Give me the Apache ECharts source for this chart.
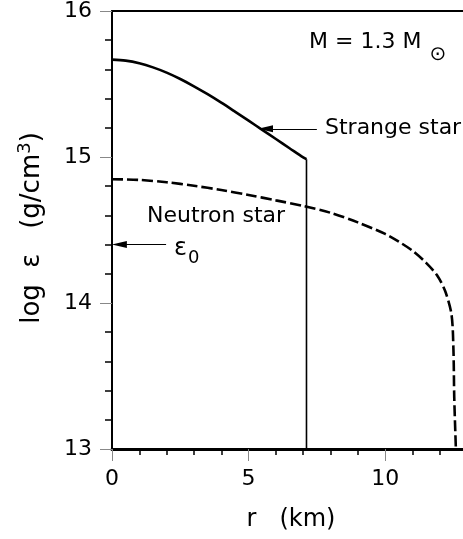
<!DOCTYPE html>
<html>
<head>
<meta charset="utf-8">
<script src="https://cdn.jsdelivr.net/npm/echarts@6/dist/echarts.min.js"></script>
<style>
html,body{margin:0;padding:0;background:#fff;}
#c{width:463px;height:539px;}
</style>
</head>
<body>
<div id="c"></div>
<script>
// ---- data ----
const strangeR    = [0, 0.5, 1, 1.5, 2, 2.5, 3, 3.5, 4, 4.5, 5, 5.5, 6, 6.5, 7, 7.12];
const strangeLogE = [15.667, 15.66, 15.642, 15.614, 15.578, 15.534, 15.484, 15.43, 15.372, 15.311, 15.249, 15.186, 15.123, 15.06, 14.997, 14.985];
const strangeEdgeR = [7.12, 7.12];
const strangeEdgeLogE = [14.985, 13];
const neutronR    = [0, 1, 2, 3, 4, 5, 6, 7, 8, 9, 10, 10.5, 11, 11.5, 11.9, 12.2, 12.43, 12.5, 12.53, 12.59];
const neutronLogE = [14.848, 14.843, 14.827, 14.803, 14.774, 14.74, 14.703, 14.665, 14.618, 14.552, 14.473, 14.42, 14.358, 14.275, 14.19, 14.08, 13.92, 13.68, 13.35, 13.0];
const xMajorTicks = [0, 5, 10];
const xMinorTicks = [1, 2, 3, 4, 6, 7, 8, 9, 11, 12];
const yTicks = [13, 14, 15, 16];

const FONT = 'DejaVu Sans';
const pair = (xs, ys) => xs.map((x, i) => [x, ys[i]]);

const chart = echarts.init(document.getElementById('c'), null, {renderer: 'canvas'});
const option = {
  animation: false,
  backgroundColor: '#fff',
  grid: {left: 112, top: 10, right: 0, bottom: 90, containLabel: false},
  xAxis: [
    {
      type: 'value', min: 0, max: 12.85, position: 'bottom',
      axisLine: {show: true, lineStyle: {color: '#000', width: 3}},
      axisTick: {show: true, customValues: xMajorTicks, length: 12, lineStyle: {color: '#888', width: 1}},
      axisLabel: {show: true, customValues: xMajorTicks, margin: 19, fontFamily: FONT, fontSize: 22, color: '#000'},
      splitLine: {show: false}
    },
    {
      type: 'value', min: 0, max: 12.85, position: 'bottom',
      axisLine: {show: false},
      axisTick: {show: true, customValues: xMinorTicks, length: 6, lineStyle: {color: '#000', width: 1.5}},
      axisLabel: {show: false},
      splitLine: {show: false}
    },
    {
      type: 'value', min: 0, max: 12.85, position: 'top',
      axisLine: {show: true, lineStyle: {color: '#000', width: 2}},
      axisTick: {show: false}, axisLabel: {show: false}, splitLine: {show: false}
    }
  ],
  yAxis: [
    {
      type: 'value', min: 13, max: 16, interval: 1, position: 'left',
      axisLine: {show: true, lineStyle: {color: '#000', width: 2}},
      axisTick: {show: true, length: 12, lineStyle: {color: '#888', width: 1}},
      minorTick: {show: true, splitNumber: 5, length: 7, lineStyle: {color: '#000', width: 1.5}},
      axisLabel: {show: true, margin: 20, fontFamily: FONT, fontSize: 22, color: '#000',
                  customValues: yTicks},
      splitLine: {show: false}, minorSplitLine: {show: false}
    }
  ],
  series: [
    {
      name: 'Strange star', type: 'line', xAxisIndex: 0, yAxisIndex: 0,
      data: pair(strangeR, strangeLogE), showSymbol: false, symbol: 'none',
      smooth: 0.3,
      lineStyle: {color: '#000', width: 2.6},
      markLine: {
        silent: true, symbol: ['none', 'triangle'], symbolSize: [7, 15],
        lineStyle: {color: '#000', width: 1, type: 'solid'},
        label: {show: false},
        data: [
          [{coord: [7.5, 15.193]}, {coord: [5.62, 15.193]}],
          [{coord: [1.98, 14.4]}, {coord: [0.27, 14.4]}]
        ]
      }
    },
    {
      name: 'Strange edge', type: 'line', xAxisIndex: 0, yAxisIndex: 0,
      data: pair(strangeEdgeR, strangeEdgeLogE), showSymbol: false, symbol: 'none',
      lineStyle: {color: '#000', width: 1.6}
    },
    {
      name: 'Neutron star', type: 'line', xAxisIndex: 0, yAxisIndex: 0,
      data: pair(neutronR, neutronLogE), showSymbol: false, symbol: 'none',
      smooth: 0.3,
      lineStyle: {color: '#000', width: 2.6, type: [11, 4]}
    }
  ],
  graphic: [
    {type: 'text', x: 32, y: 228, rotation: Math.PI / 2, style: {
      text: '{m|log  ε   (g/cm}{s|3}{m|)}', align: 'center', verticalAlign: 'middle',
      rich: {m: {fontFamily: FONT, fontSize: 26, fill: '#000', lineHeight: 32},
             s: {fontFamily: FONT, fontSize: 18, fill: '#000', lineHeight: 32, verticalAlign: 'top'}}}},
    {type: 'text', x: 291, y: 520, style: {text: 'r   (km)', font: '24px "DejaVu Sans"', fill: '#000', align: 'center', verticalAlign: 'middle'}},
    {type: 'text', x: 309, y: 42, style: {text: 'M = 1.3 M', font: '22px "DejaVu Sans"', fill: '#000', align: 'left', verticalAlign: 'middle'}},
    {type: 'text', x: 438, y: 55, style: {text: '⊙', font: '20px "DejaVu Sans"', fill: '#000', align: 'center', verticalAlign: 'middle'}},
    {type: 'text', x: 325, y: 128, style: {text: 'Strange star', font: '22px "DejaVu Sans"', fill: '#000', align: 'left', verticalAlign: 'middle'}},
    {type: 'text', x: 147, y: 216, style: {text: 'Neutron star', font: '22px "DejaVu Sans"', fill: '#000', align: 'left', verticalAlign: 'middle'}},
    {type: 'text', x: 174, y: 249, style: {text: 'ε', font: '24px "DejaVu Sans"', fill: '#000', align: 'left', verticalAlign: 'middle'}},
    {type: 'text', x: 188, y: 258, style: {text: '0', font: '18px "DejaVu Sans"', fill: '#000', align: 'left', verticalAlign: 'middle'}}
  ]
};
chart.setOption(option);
</script>
</body>
</html>
